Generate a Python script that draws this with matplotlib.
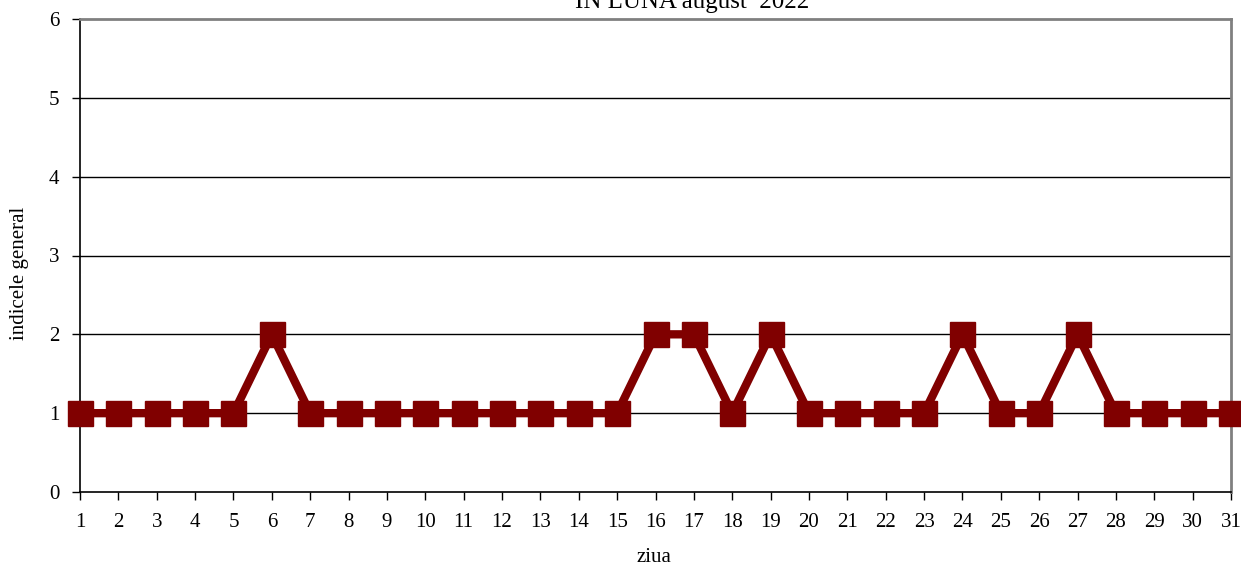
import matplotlib.pyplot as plt

# Data
days = list(range(1, 32))
index_values = [1, 1, 1, 1, 1, 2, 1, 1, 1, 1, 1, 1, 1, 1, 1,
                2, 2, 1, 2, 1, 1, 1, 1, 2, 1, 1, 2, 1, 1, 1, 1]
y_ticks = [0, 1, 2, 3, 4, 5, 6]

plt.rcParams['font.family'] = ['Liberation Serif', 'DejaVu Serif']

W, H = 1241, 566
fig = plt.figure(figsize=(W / 100, H / 100), dpi=100)
ax = fig.add_axes([80 / W, (H - 492) / H, (1231 - 80) / W, (492 - 19) / H])

# Gridlines
for y in y_ticks[1:-1]:
    ax.axhline(y, color='black', linewidth=1, zorder=1)

ax.plot(days, index_values, color='#800000', linewidth=6,
        marker='s', markersize=18, clip_on=False, zorder=3)

ax.set_xlim(1, 31)
ax.set_ylim(0, 6)
ax.set_xticks(days)
ax.set_yticks(y_ticks)
ax.tick_params(direction='out', length=6, width=1, labelsize=15, pad=9)

for side in ('top', 'right'):
    ax.spines[side].set_color('#808080')
    ax.spines[side].set_linewidth(2)
for side in ('left', 'bottom'):
    ax.spines[side].set_color('black')
    ax.spines[side].set_linewidth(1.2)

fig.text(654 / W, 1 - 557 / H, 'ziua', ha='center', va='center', fontsize=15)
fig.text(20 / W, 1 - 273 / H, 'indicele general', ha='center', va='center',
         rotation=90, fontsize=15)

fig.text(692 / W, 1 - 8 / H, 'IN LUNA august  2022', ha='center',
         va='baseline', fontsize=18)

fig.savefig('out.png', dpi=100)
